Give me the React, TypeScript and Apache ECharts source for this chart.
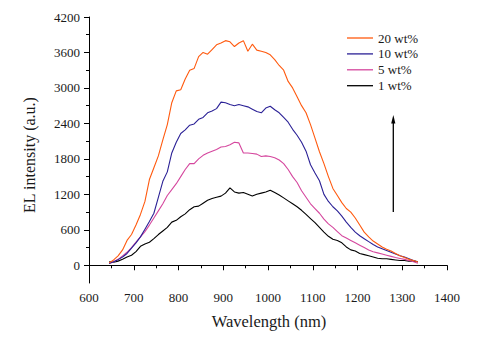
import React, { useEffect, useRef } from "react";
import * as echarts from "echarts";

const wavelengths = [
  645, 655, 665, 675, 685, 695, 705, 715, 725, 735, 745, 755, 765, 775, 785, 795, 805, 815, 825, 835,
  845, 855, 865, 875, 885, 895, 905, 915, 925, 935, 945, 955, 965, 975, 985, 995, 1005, 1015, 1025, 1035,
  1045, 1055, 1065, 1075, 1085, 1095, 1105, 1115, 1125, 1135, 1145, 1155, 1165, 1175, 1185, 1195, 1205, 1215, 1225, 1235,
  1245, 1255, 1265, 1275, 1285, 1295, 1305, 1315, 1325, 1335,
];

const wt20 = [
  40, 90, 160, 260, 420, 520, 680, 860, 1080, 1450, 1650, 1850, 2120, 2380, 2750, 2950, 2970, 3150, 3300, 3330,
  3530, 3600, 3570, 3650, 3730, 3760, 3800, 3780, 3700, 3760, 3800, 3620, 3740, 3640, 3620, 3600, 3560, 3480, 3380, 3300,
  3110, 3000, 2850, 2700, 2580, 2380, 2150, 1920, 1720, 1500, 1300, 1180, 1060, 960, 900, 800, 680, 560, 480, 410,
  360, 310, 270, 240, 200, 160, 130, 100, 80, 55,
];

const wt10 = [
  30, 60, 95, 140, 200, 290, 380, 480, 610, 740, 880, 1150, 1420, 1580, 1900, 2080, 2230, 2290, 2370, 2390,
  2470, 2500, 2580, 2610, 2650, 2760, 2750, 2720, 2700, 2720, 2700, 2680, 2640, 2600, 2580, 2660, 2690, 2630, 2580, 2500,
  2420, 2300, 2200, 2080, 1930, 1700, 1560, 1430, 1200, 1080, 990, 920, 830, 730, 640, 560, 500, 450, 400, 350,
  310, 280, 250, 220, 190, 160, 140, 110, 80, 60,
];

const wt5 = [
  30, 60, 100, 160, 220, 300, 390, 480, 570, 680, 800, 920, 1040, 1180, 1280, 1380, 1500, 1620, 1720, 1720,
  1800, 1860, 1900, 1930, 1960, 2000, 2010, 2040, 2080, 2070, 1900, 1900, 1890, 1880, 1840, 1850, 1840, 1820, 1780, 1720,
  1620, 1500, 1400, 1260, 1150, 1040, 960, 880, 780, 700, 640, 570, 500, 460, 420, 380, 340, 300, 260, 230,
  210, 190, 170, 150, 130, 115, 100, 80, 60, 35,
];

const wt1 = [
  60, 50, 70, 100, 140, 170, 230, 320, 360, 390, 450, 520, 580, 640, 730, 760, 820, 870, 940, 990,
  1000, 1050, 1100, 1130, 1150, 1170, 1220, 1310, 1240, 1220, 1230, 1200, 1170, 1200, 1220, 1240, 1270, 1230, 1190, 1140,
  1090, 1040, 990, 930, 860, 790, 720, 640, 560, 490, 440, 420, 380, 310, 260, 240, 200, 180, 160, 140,
  120, 110, 110, 100, 90, 80, 80, 70, 70, 60,
];

const seriesNames = ["20 wt%", "10 wt%", "5 wt%", "1 wt%"];
const seriesColors = ["#FF5A0F", "#2B2196", "#D5479E", "#000000"];
const seriesValues = [wt20, wt10, wt5, wt1];

const yMajorTicks = [0, 600, 1200, 1800, 2400, 3000, 3600, 4200];
const yMinorTicks = [300, 900, 1500, 2100, 2700, 3300, 3900];

const FONT = "Liberation Serif";

export default function App() {
  const ref = useRef<HTMLDivElement>(null);

  useEffect(() => {
    document.body.style.margin = "0";
    if (!ref.current) return;
    const chart = echarts.init(ref.current, null, { renderer: "svg" });

    const series = seriesNames.map((name, i) => ({
      name,
      type: "line",
      data: wavelengths.map((w, j) => [w, seriesValues[i][j]]),
      showSymbol: false,
      symbol: "none",
      lineStyle: { color: seriesColors[i], width: 1.1 },
      itemStyle: { color: seriesColors[i] },
      z: 10 - i,
    }));

    chart.setOption({
      animation: false,
      backgroundColor: "#ffffff",
      grid: {
        left: 89,
        right: 49,
        top: 17,
        bottom: 56,
        outerBoundsMode: "none",
        containLabel: false,
      },
      legend: {
        orient: "vertical",
        left: 347,
        top: 31.5,
        padding: 0,
        icon: "rect",
        itemWidth: 26,
        itemHeight: 1.3,
        itemGap: 2.9,
        data: seriesNames,
        textStyle: { fontFamily: FONT, fontSize: 13, color: "#1a1a1a", lineHeight: 13 },
      },
      xAxis: {
        type: "value",
        min: 600,
        max: 1400,
        interval: 100,
        axisLine: { show: true, lineStyle: { color: "#000", width: 1 } },
        axisTick: { show: true, inside: false, length: 5, lineStyle: { color: "#000" } },
        minorTick: { show: true, splitNumber: 2, length: 3, lineStyle: { color: "#000" } },
        splitLine: { show: false },
        minorSplitLine: { show: false },
        axisLabel: {
          fontFamily: FONT,
          fontSize: 13,
          color: "#1a1a1a",
          margin: 8,
          formatter: (v: number) => String(v),
        },
      },
      yAxis: [
        {
          type: "value",
          min: -300,
          max: 4200,
          interval: 300,
          axisLine: { show: true, lineStyle: { color: "#000", width: 1 } },
          axisTick: { show: true, inside: false, length: 5, customValues: yMajorTicks, lineStyle: { color: "#000" } },
          splitLine: { show: false },
          axisLabel: {
            fontFamily: FONT,
            fontSize: 13,
            color: "#1a1a1a",
            margin: 9,
            customValues: yMajorTicks,
            formatter: (v: number) => String(v),
          },
        },
        {
          type: "value",
          position: "left",
          min: -300,
          max: 4200,
          interval: 300,
          axisLine: { show: false },
          axisTick: { show: true, inside: false, length: 3, customValues: yMinorTicks, lineStyle: { color: "#000" } },
          splitLine: { show: false },
          axisLabel: { show: false },
        },
      ],
      series,
      graphic: [
        {
          type: "text",
          x: 269,
          y: 321,
          style: {
            text: "Wavelength (nm)",
            fontFamily: FONT,
            fontSize: 16.5,
            fill: "#1a1a1a",
            textAlign: "center",
            textVerticalAlign: "middle",
          },
        },
        {
          type: "text",
          x: 29,
          y: 155,
          rotation: Math.PI / 2,
          style: {
            text: "EL intensity (a.u.)",
            fontFamily: FONT,
            fontSize: 16,
            fill: "#1a1a1a",
            textAlign: "center",
            textVerticalAlign: "middle",
          },
        },
        {
          type: "line",
          shape: { x1: 393.3, y1: 212, x2: 393.3, y2: 121 },
          style: { stroke: "#000", lineWidth: 1.3 },
        },
        {
          type: "polygon",
          shape: { points: [[393.3, 115], [391.2, 123.5], [395.4, 123.5]] },
          style: { fill: "#000" },
        },
      ],
    });

    return () => chart.dispose();
  }, []);

  return <div ref={ref} style={{ width: 496, height: 339 }} />;
}
